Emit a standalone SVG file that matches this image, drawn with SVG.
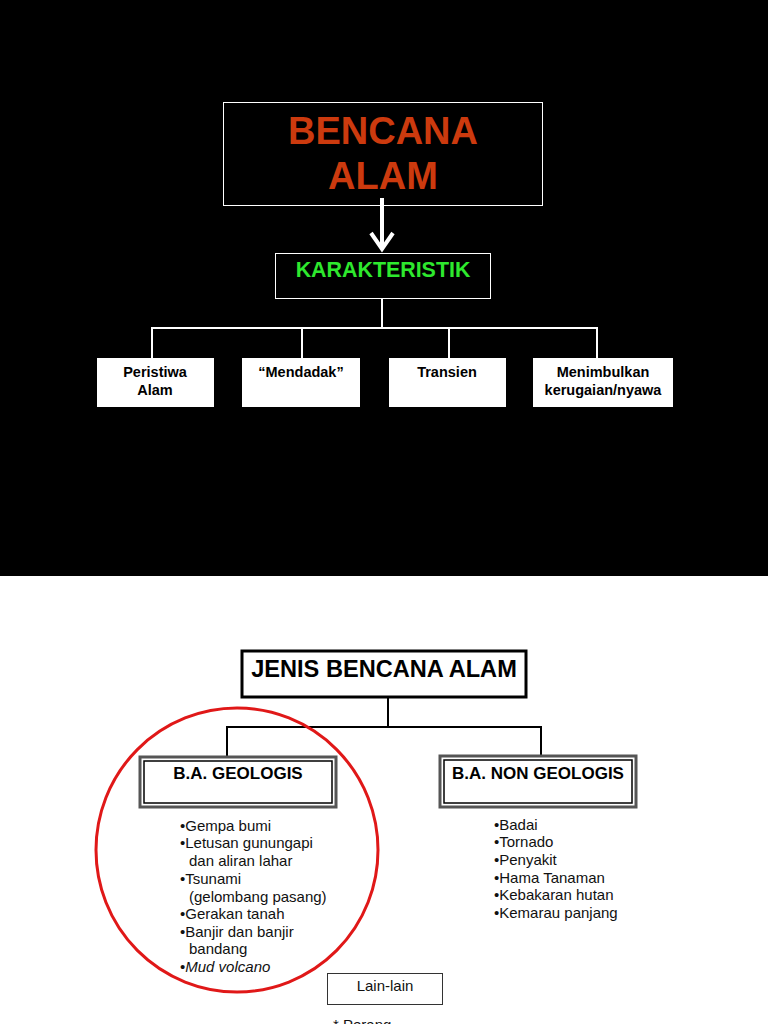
<svg xmlns="http://www.w3.org/2000/svg" width="768" height="1024" viewBox="0 0 768 1024">
<defs>
<style>
text{font-family:"Liberation Sans",Arial,sans-serif}
.w{stroke:#fff;stroke-width:2;fill:none}
.k{stroke:#000;stroke-width:2;fill:none}
.card{fill:#fff}
.ct{font-size:14.5px;font-weight:bold;fill:#000;text-anchor:middle}
.li{font-size:15px;fill:#111}
</style>
</defs>
<rect x="0" y="0" width="768" height="576" fill="#000"/>
<rect x="0" y="576" width="768" height="448" fill="#fff"/>
<g id="connectors">
<line x1="382" y1="198" x2="382" y2="247" stroke="#fff" stroke-width="4"/>
<polyline points="371,233 382,249 393,233" fill="none" stroke="#fff" stroke-width="4"/>
<polyline class="w" points="382,298 382,328"/>
<polyline class="w" points="152,358 152,328 597,328 597,358"/>
<line class="w" x1="302" y1="328" x2="302" y2="358"/>
<line class="w" x1="449" y1="328" x2="449" y2="358"/>
<line class="k" x1="388" y1="697" x2="388" y2="727"/>
<polyline class="k" points="227,757 227,727 541,727 541,755"/>
</g>
<g id="bencana-alam">
<rect x="223.5" y="102.5" width="319" height="103" fill="none" stroke="#fff" stroke-width="1"/>
<text x="383" y="144" font-size="38" font-weight="bold" fill="#cc3a0e" text-anchor="middle">BENCANA</text>
<text x="383" y="189" font-size="38" font-weight="bold" fill="#cc3a0e" text-anchor="middle">ALAM</text>
</g>
<g id="karakteristik">
<rect x="275.5" y="253.5" width="215" height="45" fill="#000" stroke="#fff" stroke-width="1"/>
<text x="383" y="277" font-size="21.4" font-weight="bold" fill="#2ee82e" text-anchor="middle">KARAKTERISTIK</text>
</g>
<g id="peristiwa">
<rect class="card" x="97" y="358" width="117" height="49"/>
<text class="ct" x="155" y="377">Peristiwa</text>
<text class="ct" x="155" y="395">Alam</text>
</g>
<g id="mendadak">
<rect class="card" x="242" y="358" width="118" height="49"/>
<text class="ct" x="301" y="377">“Mendadak”</text>
</g>
<g id="transien">
<rect class="card" x="389" y="358" width="117" height="49"/>
<text class="ct" x="447" y="377">Transien</text>
</g>
<g id="menimbulkan">
<rect class="card" x="533" y="358" width="140" height="49"/>
<text class="ct" x="603" y="377">Menimbulkan</text>
<text class="ct" x="603" y="395">kerugaian/nyawa</text>
</g>
<g id="jenis">
<rect x="242" y="651" width="284" height="46" fill="#fff" stroke="#000" stroke-width="3"/>
<text x="384" y="677" font-size="23.6" font-weight="bold" fill="#000" text-anchor="middle">JENIS BENCANA ALAM</text>
</g>
<g id="geologis">
<rect x="140" y="757" width="196" height="50" fill="#fff" stroke="#555" stroke-width="3"/>
<rect x="144" y="761" width="188" height="42" fill="none" stroke="#000" stroke-width="1.5"/>
<text x="238" y="779" font-size="17" font-weight="bold" fill="#000" text-anchor="middle">B.A. GEOLOGIS</text>
<text class="li" x="180" y="831">•Gempa bumi</text>
<text class="li" x="180" y="848">•Letusan gunungapi</text>
<text class="li" x="189" y="866">dan aliran lahar</text>
<text class="li" x="180" y="884">•Tsunami</text>
<text class="li" x="189" y="902">(gelombang pasang)</text>
<text class="li" x="180" y="919">•Gerakan tanah</text>
<text class="li" x="180" y="937">•Banjir dan banjir</text>
<text class="li" x="189" y="954">bandang</text>
<text class="li" x="180" y="972">•<tspan font-style="italic">Mud volcano</tspan></text>
</g>
<g id="non-geologis">
<rect x="440" y="756" width="196" height="51" fill="#fff" stroke="#555" stroke-width="3"/>
<rect x="444" y="760" width="188" height="43" fill="none" stroke="#000" stroke-width="1.5"/>
<text x="538" y="779" font-size="17" font-weight="bold" fill="#000" text-anchor="middle">B.A. NON GEOLOGIS</text>
<text class="li" x="494" y="830">•Badai</text>
<text class="li" x="494" y="847">•Tornado</text>
<text class="li" x="494" y="865">•Penyakit</text>
<text class="li" x="494" y="883">•Hama Tanaman</text>
<text class="li" x="494" y="900">•Kebakaran hutan</text>
<text class="li" x="494" y="918">•Kemarau panjang</text>
</g>
<ellipse id="highlight" cx="237" cy="850" rx="141" ry="142" fill="none" stroke="#e01818" stroke-width="3"/>
<g id="lain-lain">
<rect x="327.5" y="973.5" width="115" height="31" fill="#fff" stroke="#333" stroke-width="1"/>
<text x="385" y="991" font-size="15" fill="#111" text-anchor="middle">Lain-lain</text>
<text class="li" x="333" y="1030">* Perang</text>
</g>
</svg>
